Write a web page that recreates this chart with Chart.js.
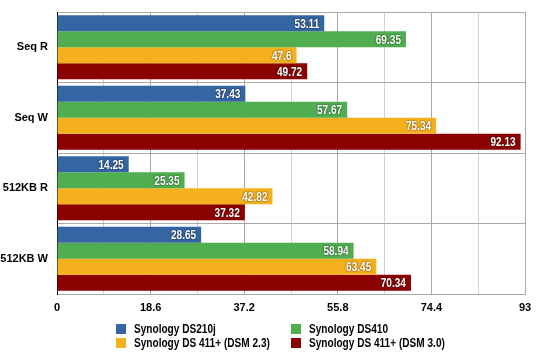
<!DOCTYPE html>
<html>
<head>
<meta charset="utf-8">
<script src="https://cdn.jsdelivr.net/npm/chart.js@4/dist/chart.umd.min.js"></script>
<style>
  html, body { margin: 0; padding: 0; background: #ffffff; }
  #wrap { width: 540px; height: 356px; }
</style>
</head>
<body>
<div id="wrap"><canvas id="c" width="540" height="356"></canvas></div>
<script>
const categories = ["Seq R", "Seq W", "512KB R", "512KB W"];
const seriesNames = ["Synology DS210j", "Synology DS410", "Synology DS 411+ (DSM 2.3)", "Synology DS 411+ (DSM 3.0)"];
const ds210j = [53.11, 37.43, 14.25, 28.65];
const ds410 = [69.35, 57.67, 25.35, 58.94];
const ds411dsm23 = [47.6, 75.34, 42.82, 63.45];
const ds411dsm30 = [49.72, 92.13, 37.32, 70.34];
const tickLabels = ["0", "18.6", "37.2", "55.8", "74.4", "93"];
const seriesColors = ["#3466a3", "#50ae50", "#f5b01e", "#8b0000"];

const FONT_FAMILY = "'Liberation Sans', Arial, Helvetica, sans-serif";
const NARROW = 0.84;

function narrowText(ctx, text, x, y) {
  ctx.save();
  ctx.translate(x, y);
  ctx.scale(NARROW, 1);
  ctx.fillText(text, 0, 0);
  ctx.restore();
}

const valueLabels = {
  id: 'valueLabels',
  afterDatasetsDraw(chart) {
    const ctx = chart.ctx;
    ctx.save();
    ctx.font = "bold 12px " + FONT_FAMILY;
    ctx.textAlign = 'right';
    ctx.textBaseline = 'middle';
    ctx.fillStyle = '#ffffff';
    ctx.shadowColor = 'rgba(0,0,0,0.8)';
    ctx.shadowBlur = 2;
    chart.data.datasets.forEach((ds, i) => {
      const meta = chart.getDatasetMeta(i);
      meta.data.forEach((el, j) => {
        narrowText(ctx, String(ds.data[j]), el.x - 5, el.y + 1);
      });
    });
    ctx.restore();
  }
};

const gridLegend = {
  id: 'gridLegend',
  afterDraw(chart) {
    const ctx = chart.ctx;
    ctx.save();
    ctx.font = "bold 12px " + FONT_FAMILY;
    ctx.textAlign = 'left';
    ctx.textBaseline = 'middle';
    const colX = [116, 291];
    const rowY = [329, 343];
    seriesNames.forEach((name, i) => {
      const x = colX[i % 2];
      const y = rowY[Math.floor(i / 2)];
      ctx.fillStyle = seriesColors[i];
      ctx.fillRect(x, y - 5, 10, 10);
      ctx.fillStyle = '#000000';
      narrowText(ctx, name, x + 18, y + 1);
    });
    ctx.restore();
  }
};

const seriesData = [ds210j, ds410, ds411dsm23, ds411dsm30];

new Chart(document.getElementById('c'), {
  type: 'bar',
  data: {
    labels: categories,
    datasets: seriesNames.map((name, i) => ({
      label: name,
      data: seriesData[i],
      backgroundColor: seriesColors[i],
      borderWidth: 0,
      categoryPercentage: 0.908,
      barPercentage: 1.0
    }))
  },
  options: {
    indexAxis: 'y',
    responsive: false,
    animation: false,
    devicePixelRatio: 1,
    layout: { padding: { top: 12, right: 15, left: 0, bottom: 0 } },
    plugins: {
      legend: { display: false },
      tooltip: { enabled: false }
    },
    scales: {
      x: {
        min: 0,
        max: 93,
        afterBuildTicks(scale) {
          scale.ticks = [];
          for (let k = 0; k <= 10; k++) scale.ticks.push({ value: +(k * 9.3).toFixed(1) });
        },
        afterFit(scale) { scale.height = 62; scale.paddingLeft = 0; scale.paddingRight = 0; },
        ticks: {
          autoSkip: false,
          maxRotation: 0,
          padding: 7,
          color: '#000000',
          font: { family: FONT_FAMILY, size: 11, weight: 'bold' },
          callback(value, index) {
            return index % 2 === 0 ? tickLabels[index / 2] : '';
          }
        },
        grid: {
          drawTicks: false,
          color(ctx) { return ctx.index % 2 === 0 ? '#a9a9a9' : '#d2d2d2'; },
          lineWidth: 1
        },
        border: { display: true, color: '#a9a9a9', width: 1 }
      },
      y: {
        afterFit(scale) { scale.width = 57; scale.paddingTop = 0; scale.paddingBottom = 0; },
        ticks: {
          padding: 9,
          color: '#000000',
          font: { family: FONT_FAMILY, size: 11, weight: 'bold' }
        },
        grid: {
          offset: true,
          drawTicks: false,
          color: '#a9a9a9',
          lineWidth: 1
        },
        border: { display: true, color: '#000000', width: 1 }
      }
    }
  },
  plugins: [valueLabels, gridLegend]
});
</script>
</body>
</html>
